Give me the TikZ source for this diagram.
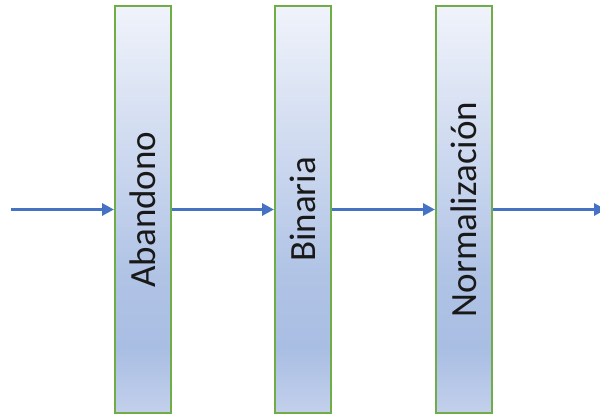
\documentclass[tikz,border=0pt]{standalone}
\usepackage{fontspec}
\setmainfont{Carlito}
\usetikzlibrary{positioning,arrows.meta}

\definecolor{boxgreen}{HTML}{70AD47}
\definecolor{arrblue}{HTML}{4472C4}
\definecolor{gtop}{HTML}{F0F3FB}
\definecolor{gmid}{HTML}{A9BEE3}
\definecolor{gbot}{HTML}{C3D0EC}
\pgfdeclareverticalshading{stageshade}{100bp}{%
  color(0bp)=(gbot); color(25bp)=(gbot); color(33bp)=(gmid);
  color(42bp)=(gmid!90!gtop); color(75bp)=(gtop); color(100bp)=(gtop)}

\tikzstyle{bx} = [draw=boxgreen, line width=2pt, shading=stageshade, minimum width=56pt, minimum height=407pt, inner sep=0pt, font=\fontsize{37}{40}\selectfont, text=black!90]
\tikzstyle{arr} = [draw=arrblue, line width=3pt, -{Triangle[length=12pt,width=12pt]}]

\begin{document}
\begin{tikzpicture}[x=1pt, y=-1pt, node distance=102pt]
  \useasboundingbox (0,0) rectangle (600,414);
  \node[bx] (aband) at (143,209.5) {\rotatebox{90}{Abandono}};
  \node[bx, right=of aband] (binar) {\rotatebox{90}{Binaria}};
  \node[bx, right=103pt of binar] (norm) {\rotatebox{90}{Normalización}};
  \coordinate (in) at (11,209.5);
  \coordinate (out) at (606,209.5);
  \draw[arr] (in) -- (aband);
  \draw[arr] (aband) -- (binar);
  \draw[arr] (binar) -- (norm);
  \draw[arr] (norm) -- (out);
\end{tikzpicture}
\end{document}
